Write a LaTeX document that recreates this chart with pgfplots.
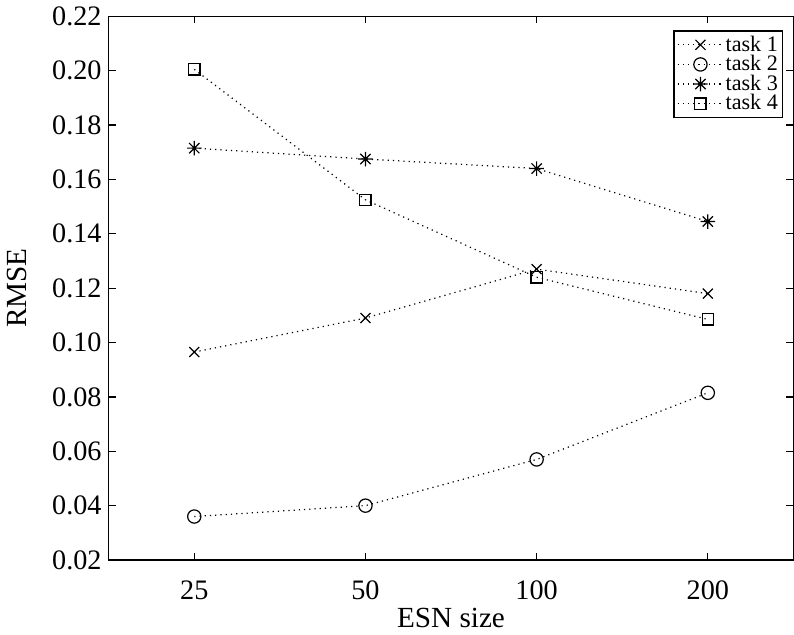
\documentclass[border=0pt]{standalone}
\usepackage{pgfplots}
\pgfplotsset{compat=1.18}
\usepackage{fontspec}
\setmainfont{Liberation Serif}
\pgfdeclareplotmark{mstar}{%
  \pgfpathmoveto{\pgfqpoint{0pt}{\pgfplotmarksize}}\pgfpathlineto{\pgfqpoint{0pt}{-\pgfplotmarksize}}%
  \pgfpathmoveto{\pgfqpoint{\pgfplotmarksize}{0pt}}\pgfpathlineto{\pgfqpoint{-\pgfplotmarksize}{0pt}}%
  \pgfpathmoveto{\pgfqpoint{0.707\pgfplotmarksize}{0.707\pgfplotmarksize}}\pgfpathlineto{\pgfqpoint{-0.707\pgfplotmarksize}{-0.707\pgfplotmarksize}}%
  \pgfpathmoveto{\pgfqpoint{-0.707\pgfplotmarksize}{0.707\pgfplotmarksize}}\pgfpathlineto{\pgfqpoint{0.707\pgfplotmarksize}{-0.707\pgfplotmarksize}}%
  \pgfusepathqstroke}
\begin{document}
\begin{tikzpicture}
\begin{axis}[
  scale only axis,
  width=340pt, height=270pt,
  xmin=0.5, xmax=4.5,
  ymin=0.02, ymax=0.22,
  xtick={1,2,3,4},
  xticklabels={25,50,100,200},
  ytick={0.02,0.04,...,0.22},
  yticklabel style={/pgf/number format/.cd,fixed,fixed zerofill,precision=2},
  /pgf/number format/assume math mode=true,
  tick align=inside,
  tick pos=both,
  major tick length=3.5pt,
  xlabel={ESN size},
  ylabel={RMSE},
  tick label style={font=\fontsize{14}{16}\selectfont},
  xticklabel style={yshift=-7pt},
  label style={font=\fontsize{14.5}{16}\selectfont},
  xlabel style={yshift=3pt},
  ylabel style={yshift=6pt},
  axis line style={line width=0.6pt},
  every tick/.style={black, line width=0.6pt},
  legend style={at={(rel axis cs:0.985,0.974)}, anchor=north east, font=\fontsize{11}{11}\selectfont, draw=black, line width=0.6pt, inner sep=1.5pt, row sep=-1pt, nodes={inner sep=0.8pt}, cells={anchor=west}},
  legend cell align=left,
  legend image code/.code={\draw[mark repeat=2,mark phase=2] plot coordinates {(0cm,0cm) (0.4cm,0cm) (0.8cm,0cm)};},
]
\addplot[black, dotted, line width=0.6pt, mark=x, mark size=3.5pt, mark options={solid}] coordinates {(1,0.0965) (2,0.109) (3,0.127) (4,0.118)};
\addlegendentry{task 1}
\addplot[black, dotted, line width=0.6pt, mark=o, mark size=3.3pt, mark options={solid}] coordinates {(1,0.036) (2,0.040) (3,0.057) (4,0.0815)};
\addlegendentry{task 2}
\addplot[black, dotted, line width=0.6pt, mark=mstar, mark size=3.6pt, mark options={solid}] coordinates {(1,0.1715) (2,0.1675) (3,0.164) (4,0.1445)};
\addlegendentry{task 3}
\addplot[black, dotted, line width=0.6pt, mark=square, mark size=2.8pt, mark options={solid}] coordinates {(1,0.2005) (2,0.1525) (3,0.124) (4,0.1085)};
\addlegendentry{task 4}
\end{axis}
\end{tikzpicture}
\end{document}
